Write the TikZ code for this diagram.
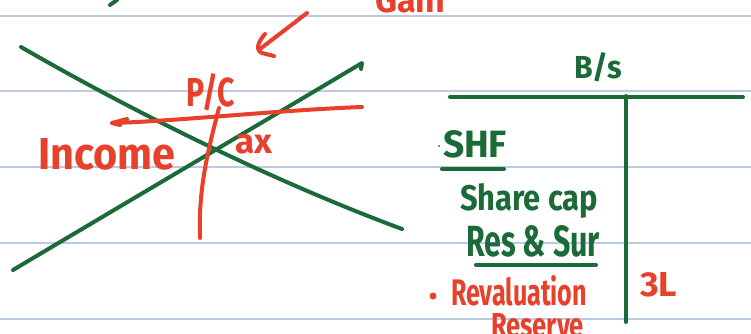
\documentclass[tikz,border=0pt]{standalone}
\usepackage{fontspec}
\setmainfont{Fira Sans}
\usepackage{graphicx}
\definecolor{pen}{HTML}{1A6B38}
\definecolor{ink}{HTML}{E8402A}
\definecolor{rule}{HTML}{BDCBE2}
\tikzset{
  ruled/.style={draw=rule, line width=1.5pt},
  gstroke/.style={draw=pen, line width=4pt, line cap=round, line join=round},
  rstroke/.style={draw=ink, line width=4pt, line cap=round, line join=round},
  gtext/.style={text=pen, inner sep=0pt, outer sep=0pt, anchor=base west, font=\bfseries},
  rtext/.style={text=ink, inner sep=0pt, outer sep=0pt, anchor=base west, font=\bfseries}
}
\begin{document}
\begin{tikzpicture}[x=1pt,y=-1pt]
\useasboundingbox (0,0) rectangle (751,333);
\clip (0,0) rectangle (751,333);
\fill[white] (0,0) rectangle (751,333);
% ruled paper
\foreach \yy in {16,91,167,243,319} \draw[ruled] (0,\yy) -- (751,\yy);
% top fragments
\coordinate (ga) at (117,0); \coordinate (gb) at (110,5);
\draw[gstroke] (ga) -- (gb);
\node[rtext] (gain) at (375,12) {\resizebox{70pt}{28pt}{Gain}};
% red arrow
\coordinate (arrS) at (307,13); \coordinate (arrT) at (260,49);
\draw[rstroke] (arrS) -- (arrT);
\draw[rstroke] (265,34) .. controls (258,42) and (255,50) .. (262,53) -- (274,56);
% green cross
\coordinate (x1a) at (21,47); \coordinate (x1b) at (402,229);
\draw[gstroke] (x1a) .. controls (130,110) and (270,180) .. (x1b);
\coordinate (x2a) at (13,270); \coordinate (x2b) at (362,63);
\draw[gstroke] (x2a) .. controls (129,201) and (246,132) .. (x2b) -- (361,69);
% red T lines
\coordinate (hL) at (112,123); \coordinate (hR) at (362,107);
\draw[rstroke] (hR) .. controls (280,110) and (180,121) .. (hL);
\draw[rstroke] (127,119) -- (hL) -- (120,125);
\coordinate (vT) at (219,108); \coordinate (vB) at (200,238);
\draw[rstroke] (vT) .. controls (208,150) and (198,190) .. (vB);
\node[rtext] (pc) at (186,106) {\resizebox{49pt}{33pt}{P/C}};
\node[rtext] (income) at (38,169) {\resizebox{137pt}{31pt}{Income}};
\node[rtext] (ax) at (235,153) {\resizebox{37pt}{19pt}{ax}};
% balance sheet T account
\node[gtext] (bs) at (574,78) {\resizebox{48pt}{26pt}{B/s}};
\coordinate (tL) at (450,97); \coordinate (tR) at (743,97);
\coordinate (tT) at (626,96); \coordinate (tB) at (626,322);
\draw[gstroke] (tL) -- (tR);
\draw[gstroke] (tT) -- (tB);
\fill[pen] (439,146) circle (1pt);
\node[gtext] (shf) at (443,157) {\resizebox{64pt}{27pt}{SHF}};
\draw[gstroke] (442,169) -- (504,169);
\node[gtext] (sc) at (460,210) {\resizebox{138pt}{27pt}{Share cap}};
\node[gtext] (rs) at (466,256) {\resizebox{134pt}{31pt}{Res \& Sur}};
\draw[gstroke] (476,265) -- (596,265);
\fill[ink] (433,296) circle (3.5pt);
\node[rtext] (reval) at (451,305) {\resizebox{136pt}{30pt}{Revaluation}};
\node[rtext] (reserve) at (491,337) {\resizebox{93pt}{24pt}{Reserve}};
\node[rtext] (tl) at (640,296) {\resizebox{37pt}{24pt}{3L}};
\end{tikzpicture}
\end{document}
